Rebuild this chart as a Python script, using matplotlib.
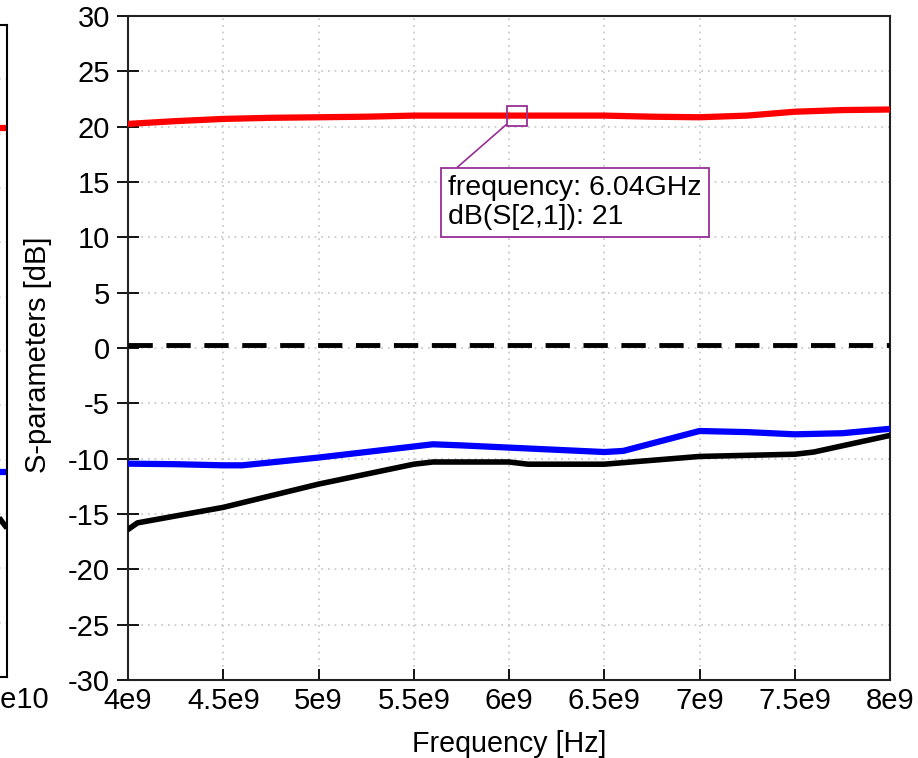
import matplotlib
matplotlib.use('Agg')
import matplotlib.pyplot as plt

plt.rcParams['font.family'] = ['Liberation Sans', 'DejaVu Sans']
plt.rcParams['axes.unicode_minus'] = False

# frequency points [GHz] and traces [dB]
freq_s21 = [4.0, 4.25, 4.5, 4.75, 5.0, 5.25, 5.5, 5.75, 6.0, 6.25, 6.5, 6.75, 7.0, 7.25, 7.5, 7.75, 8.0]
s21 = [20.25, 20.5, 20.7, 20.8, 20.85, 20.9, 21.0, 21.0, 21.0, 21.0, 21.0, 20.9, 20.85, 21.0, 21.35, 21.5, 21.55]

freq_s11 = [4.0, 4.25, 4.5, 4.6, 5.0, 5.25, 5.5, 5.6, 5.75, 6.0, 6.25, 6.5, 6.6, 7.0, 7.25, 7.5, 7.75, 8.0]
s11 = [-10.45, -10.5, -10.6, -10.6, -9.9, -9.4, -8.9, -8.7, -8.8, -9.0, -9.2, -9.4, -9.3, -7.5, -7.6, -7.8, -7.7, -7.3]

freq_s22 = [4.0, 4.05, 4.5, 5.0, 5.5, 5.6, 6.0, 6.1, 6.5, 7.0, 7.5, 7.6, 8.0]
s22 = [-16.4, -15.8, -14.4, -12.3, -10.5, -10.3, -10.3, -10.5, -10.5, -9.8, -9.6, -9.4, -7.9]

freq_ref = [4.0, 8.0]
ref_line = [0.3, 0.3]

# neighbouring plot (only its right edge is visible)
left_freq = [9.7, 10.0]
left_s21 = [20.5, 20.5]
left_s11 = [-11.1, -11.1]
left_s22 = [-15.2, -16.3]

marker_f, marker_db = 6.04, 21
xticks = [4.0, 4.5, 5.0, 5.5, 6.0, 6.5, 7.0, 7.5, 8.0]
xtick_labels = ['4e9', '4.5e9', '5e9', '5.5e9', '6e9', '6.5e9', '7e9', '7.5e9', '8e9']
yticks = list(range(-30, 31, 5))

W, H = 918, 758
fig = plt.figure(figsize=(W / 100, H / 100), dpi=100)

grid_kw = dict(color='#c4c4c4', linestyle=(0, (1, 3)), linewidth=1.2)
purple = '#962f96'

# left partial axes
axl = fig.add_axes([-300 / W, (H - 677) / H, 307 / W, (677 - 25) / H])
axl.plot(left_freq, left_s21, color='red', lw=4.5, solid_capstyle='butt')
axl.plot(left_freq, left_s11, color='blue', lw=4.5, solid_capstyle='butt')
axl.plot(left_freq, left_s22, color='black', lw=4, solid_capstyle='butt')
axl.set_xlim(0, 10)
axl.set_ylim(-30, 30)
axl.set_yticks(yticks)
axl.set_xticks([9.0])
axl.tick_params(labelleft=False, labelbottom=False, length=0)
axl.grid(True, **grid_kw)
for sp in axl.spines.values():
    sp.set_linewidth(1.5)
fig.text(17 / W, (H - 700) / H, '1e10', ha='center', va='center', fontsize=21)

# main axes
ax = fig.add_axes([128 / W, (H - 680) / H, (890 - 128) / W, (680 - 16) / H])
ax.plot(freq_s21, s21, color='red', lw=4.5, solid_capstyle='round', zorder=3)
ax.plot(freq_s11, s11, color='blue', lw=4.5, solid_capstyle='round', zorder=3)
ax.plot(freq_s22, s22, color='black', lw=4, solid_capstyle='round', zorder=3)
ax.plot(freq_ref, ref_line, color='black', lw=3.5, linestyle=(0, (5, 2.8)), zorder=3)

ax.set_xlim(4, 8)
ax.set_ylim(-30, 30)
ax.set_xticks(xticks)
ax.set_xticklabels(xtick_labels)
ax.set_yticks(yticks)
ax.grid(True, **grid_kw)
ax.tick_params(axis='y', direction='inout', length=16, width=1.3, pad=5, labelsize=21)
ax.tick_params(axis='x', direction='in', length=8, width=1.3, pad=5, labelsize=21)
for sp in ax.spines.values():
    sp.set_linewidth(1.5)
    sp.set_color('#222222')

ax.set_xlabel('Frequency [Hz]', fontsize=20.6, va='center')
ax.xaxis.set_label_coords(0.5, (680 - 744) / 664)
ax.set_ylabel('S-parameters [dB]', fontsize=21, va='center')
ax.yaxis.set_label_coords((38 - 128) / 762, (680 - 355) / 664)

# marker with readout box
ax.plot([marker_f], [marker_db], marker='s', ms=14, mfc='none', mec=purple, mew=1.3, zorder=4)
ax.annotate(f'frequency: {marker_f:.2f}GHz\ndB(S[2,1]): {marker_db}',
            xy=(marker_f, marker_db), xytext=(5.68, 15.6), textcoords='data',
            ha='left', va='top', fontsize=20.5, linespacing=1.15,
            bbox=dict(boxstyle='square,pad=0.25', fc='white', ec=purple, lw=1.3),
            arrowprops=dict(arrowstyle='-', color=purple, lw=1.2, relpos=(0, 1),
                            shrinkA=0, shrinkB=10),
            zorder=5)

fig.savefig('out.png', dpi=100)
